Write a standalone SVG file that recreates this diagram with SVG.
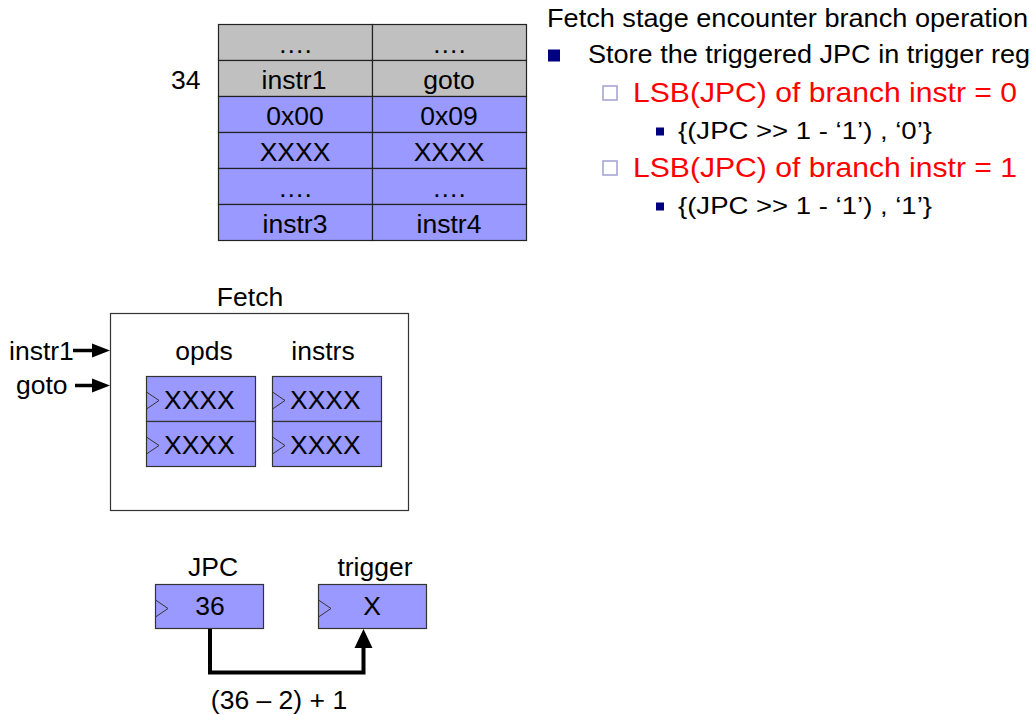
<svg xmlns="http://www.w3.org/2000/svg" width="1035" height="715" viewBox="0 0 1035 715">
  <style>
    text { font-family: "Liberation Sans", Arial, sans-serif; fill: #000; }
    .t25 { font-size: 26.5px; }
    .mid { text-anchor: middle; }
    .cell-grey { fill: #C0C0C0; stroke: #222; stroke-width: 1.2; }
    .cell-blue { fill: #9999FF; stroke: #222; stroke-width: 1.2; }
    .reg { fill: #9999FF; stroke: #333; stroke-width: 1.2; }
    .clk { fill: none; stroke: #333; stroke-width: 1; }
    .frame { fill: #fff; stroke: #333; stroke-width: 1.2; }
    .wire { fill: none; stroke: #000; stroke-width: 4; stroke-linejoin: miter; }
    .red { fill: #FF0000; }
  </style>

  <!-- memory table -->
  <g id="memory">
    <rect class="cell-grey" x="218.5" y="24.5" width="154" height="36"/>
    <rect class="cell-grey" x="372.5" y="24.5" width="154" height="36"/>
    <rect class="cell-grey" x="218.5" y="60.5" width="154" height="36"/>
    <rect class="cell-grey" x="372.5" y="60.5" width="154" height="36"/>
    <rect class="cell-blue" x="218.5" y="96.5" width="154" height="36"/>
    <rect class="cell-blue" x="372.5" y="96.5" width="154" height="36"/>
    <rect class="cell-blue" x="218.5" y="132.5" width="154" height="36"/>
    <rect class="cell-blue" x="372.5" y="132.5" width="154" height="36"/>
    <rect class="cell-blue" x="218.5" y="168.5" width="154" height="36"/>
    <rect class="cell-blue" x="372.5" y="168.5" width="154" height="36"/>
    <rect class="cell-blue" x="218.5" y="204.5" width="154" height="36"/>
    <rect class="cell-blue" x="372.5" y="204.5" width="154" height="36"/>
    <text class="t25 mid" x="295" y="53">….</text>
    <text class="t25 mid" x="449" y="53">….</text>
    <text class="t25 mid" x="294" y="89">instr1</text>
    <text class="t25 mid" x="449" y="89">goto</text>
    <text class="t25 mid" x="295" y="125">0x00</text>
    <text class="t25 mid" x="449" y="125">0x09</text>
    <text class="t25 mid" x="295" y="161">XXXX</text>
    <text class="t25 mid" x="449" y="161">XXXX</text>
    <text class="t25 mid" x="295" y="197">….</text>
    <text class="t25 mid" x="449" y="197">….</text>
    <text class="t25 mid" x="295" y="233">instr3</text>
    <text class="t25 mid" x="449" y="233">instr4</text>
    <text class="t25" x="171" y="89">34</text>
  </g>

  <!-- notes on the right -->
  <g id="notes">
    <text x="547" y="27" font-size="26" textLength="481" lengthAdjust="spacingAndGlyphs">Fetch stage encounter branch operation</text>
    <rect x="548" y="49.5" width="12" height="12" fill="#000080"/>
    <text x="588" y="63" font-size="26" textLength="442" lengthAdjust="spacingAndGlyphs">Store the triggered JPC in trigger reg</text>
    <rect x="603" y="86" width="14" height="14" fill="#fff" stroke="#A0A0D0" stroke-width="1.5"/>
    <text class="red" x="633" y="101.5" font-size="28" textLength="384" lengthAdjust="spacingAndGlyphs">LSB(JPC) of branch instr = 0</text>
    <rect x="656" y="127.5" width="8" height="8" fill="#000080"/>
    <text x="678" y="139" font-size="24" textLength="254" lengthAdjust="spacingAndGlyphs">{(JPC &gt;&gt; 1 - ‘1’) , ‘0’}</text>
    <rect x="603" y="161" width="14" height="14" fill="#fff" stroke="#A0A0D0" stroke-width="1.5"/>
    <text class="red" x="633" y="176.5" font-size="28" textLength="384" lengthAdjust="spacingAndGlyphs">LSB(JPC) of branch instr = 1</text>
    <rect x="656" y="202.5" width="8" height="8" fill="#000080"/>
    <text x="678" y="214" font-size="24" textLength="254" lengthAdjust="spacingAndGlyphs">{(JPC &gt;&gt; 1 - ‘1’) , ‘1’}</text>
  </g>

  <!-- fetch stage -->
  <g id="fetch">
    <text class="t25 mid" x="250" y="306">Fetch</text>
    <rect class="frame" x="110.5" y="313.5" width="298" height="197"/>
    <text class="t25 mid" x="204" y="360">opds</text>
    <text class="t25 mid" x="323" y="360">instrs</text>
  </g>
  <g id="opds">
    <rect class="reg" x="146.5" y="376.5" width="109" height="45"/>
    <rect class="reg" x="146.5" y="421.5" width="109" height="45"/>
    <polyline class="clk" points="146.5,392 159,400.5 146.5,409"/>
    <polyline class="clk" points="146.5,437 159,445.5 146.5,454"/>
    <text class="t25" x="164" y="409">XXXX</text>
    <text class="t25" x="164" y="454">XXXX</text>
  </g>
  <g id="instrs">
    <rect class="reg" x="272.5" y="376.5" width="109" height="45"/>
    <rect class="reg" x="272.5" y="421.5" width="109" height="45"/>
    <polyline class="clk" points="272.5,392 285,400.5 272.5,409"/>
    <polyline class="clk" points="272.5,437 285,445.5 272.5,454"/>
    <text class="t25" x="290" y="409">XXXX</text>
    <text class="t25" x="290" y="454">XXXX</text>
  </g>
  <g id="inputs">
    <text class="t25" x="9" y="360">instr1</text>
    <text class="t25" x="16" y="394">goto</text>
  </g>

  <!-- registers below -->
  <g id="jpc">
    <text class="t25 mid" x="213" y="576">JPC</text>
    <rect class="reg" x="155.5" y="584.5" width="108" height="44"/>
    <polyline class="clk" points="155.5,600 168,608.5 155.5,617"/>
    <text class="t25 mid" x="210" y="615">36</text>
  </g>
  <g id="trigger">
    <text class="t25 mid" x="375" y="576">trigger</text>
    <rect class="reg" x="318.5" y="584.5" width="108" height="44"/>
    <polyline class="clk" points="318.5,600 331,608.5 318.5,617"/>
    <text class="t25 mid" x="372" y="615">X</text>
  </g>

  <!-- connectors -->
  <g id="connectors">
    <line x1="73" y1="350.5" x2="94" y2="350.5" stroke="#000" stroke-width="3.5"/>
    <polygon points="92,343.5 110,350.5 92,357.5" fill="#000"/>
    <line x1="75" y1="385.5" x2="94" y2="385.5" stroke="#000" stroke-width="3.5"/>
    <polygon points="92,378.5 110,385.5 92,392.5" fill="#000"/>
    <path class="wire" d="M210,629 V672.5 H363.5 V645"/>
    <polygon points="354.5,648 363.5,629 372.5,648" fill="#000"/>
    <text class="t25 mid" x="279" y="709">(36 – 2) + 1</text>
  </g>
</svg>
